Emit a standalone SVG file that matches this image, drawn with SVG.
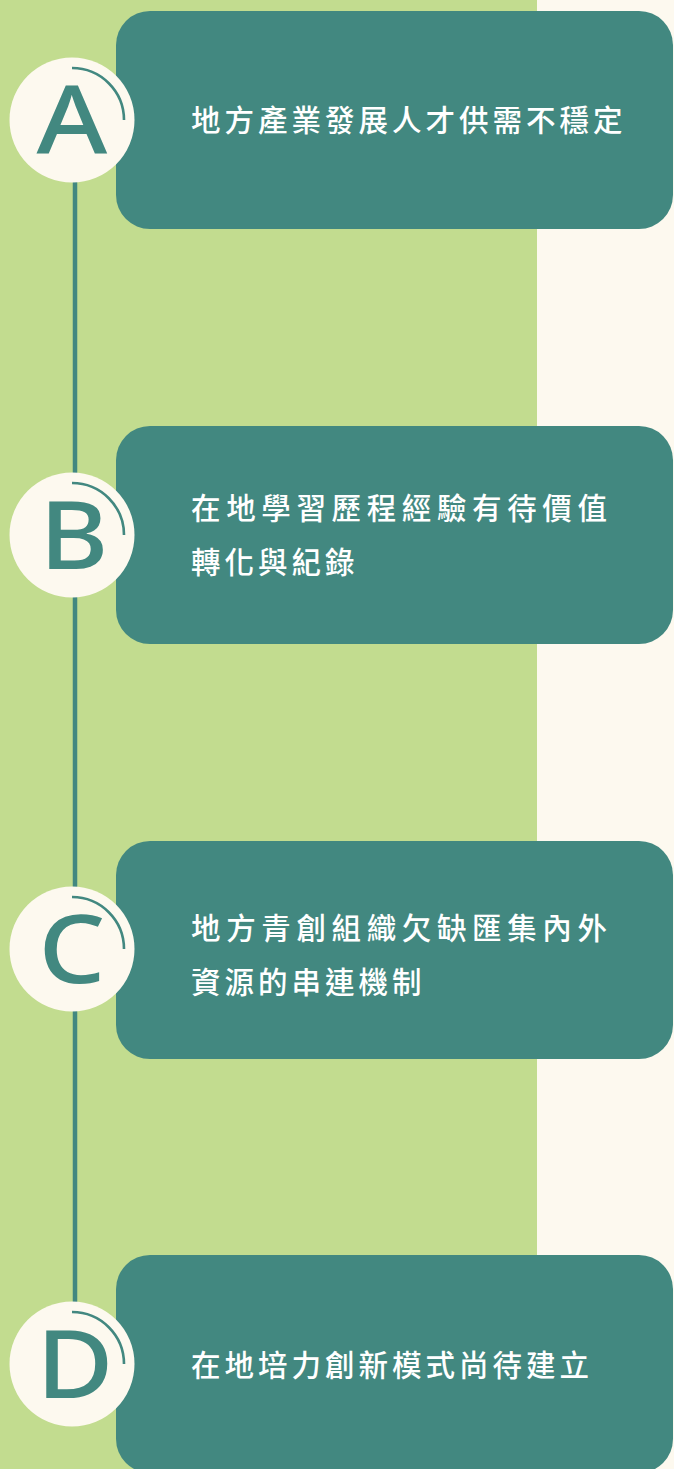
<svg xmlns="http://www.w3.org/2000/svg" width="674" height="1469" viewBox="0 0 674 1469">
<style>
.box{fill:#428880}
.disc{fill:#FDF9EF}
.arc{fill:none;stroke:#428880;stroke-width:2.6}
.letter{font-family:"Noto Sans","Open Sans",sans-serif;font-weight:500;font-size:94px;fill:#428880;text-anchor:middle}
.label{font-family:"Noto Sans CJK TC","Noto Sans CJK SC",sans-serif;font-weight:500;font-size:29.5px;letter-spacing:4px;fill:#FFFFFF}
</style>
<rect x="0" y="0" width="537" height="1469" fill="#C2DC8F"/>
<rect x="537" y="0" width="137" height="1469" fill="#FDF9EF"/>
<g id="connectors">
<line x1="75" y1="150" x2="75" y2="1340" stroke="#428880" stroke-width="4.5"/>
</g>
<g id="node-A">
<rect class="box" x="116" y="11" width="557" height="218" rx="34"/>
<circle class="disc" cx="72" cy="120" r="62.5"/>
<path class="arc" d="M72 68 A52 52 0 0 1 124 120"/>
<text class="letter" transform="translate(72 153) scale(1.15 1)">A</text>
<text class="label" x="191" y="131">地方產業發展人才供需不穩定</text>
</g>
<g id="node-B">
<rect class="box" x="116" y="426" width="557" height="218" rx="34"/>
<circle class="disc" cx="72" cy="535" r="62.5"/>
<path class="arc" d="M72 483 A52 52 0 0 1 124 535"/>
<text class="letter" transform="translate(74 569) scale(1.12 1)">B</text>
<text class="label" x="191" y="519" textLength="420" lengthAdjust="spacing">在地學習歷程經驗有待價值</text>
<text class="label" x="191" y="573">轉化與紀錄</text>
</g>
<g id="node-C">
<rect class="box" x="116" y="841" width="557" height="218" rx="34"/>
<circle class="disc" cx="72" cy="949" r="62.5"/>
<path class="arc" d="M72 897 A52 52 0 0 1 124 949"/>
<text class="letter" transform="translate(72 983) scale(1.12 1)">C</text>
<text class="label" x="191" y="939" textLength="420" lengthAdjust="spacing">地方青創組織欠缺匯集內外</text>
<text class="label" x="191" y="993">資源的串連機制</text>
</g>
<g id="node-D">
<rect class="box" x="116" y="1255" width="557" height="218" rx="34"/>
<circle class="disc" cx="72" cy="1364" r="62.5"/>
<path class="arc" d="M72 1312 A52 52 0 0 1 124 1364"/>
<text class="letter" transform="translate(75 1398) scale(1.12 1)">D</text>
<text class="label" x="191" y="1376">在地培力創新模式尚待建立</text>
</g>
</svg>
